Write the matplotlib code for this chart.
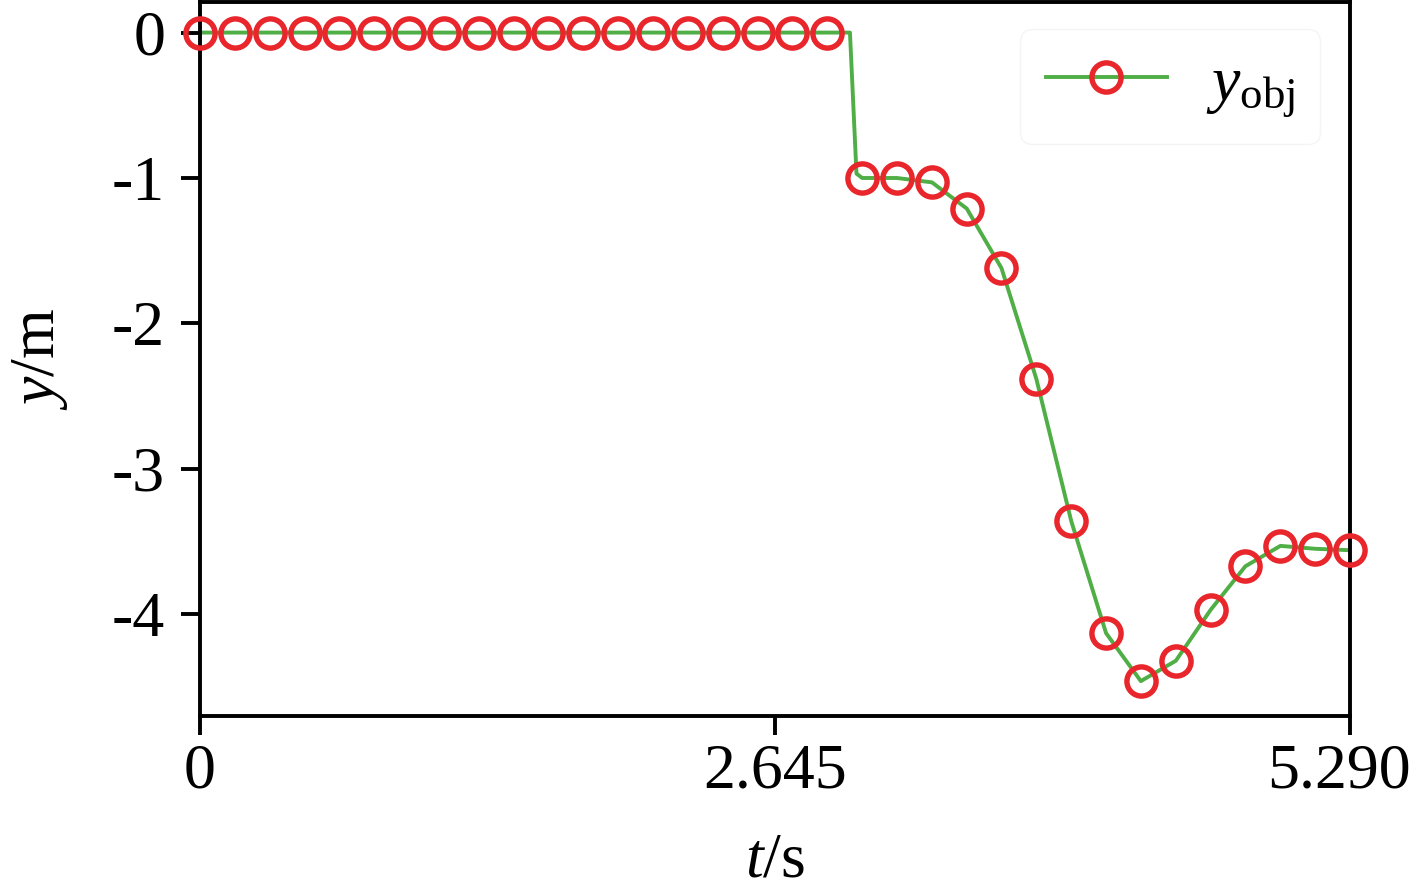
import numpy as np
import matplotlib
matplotlib.use("Agg")
import matplotlib.pyplot as plt
from matplotlib.legend_handler import HandlerTuple
from matplotlib.transforms import ScaledTranslation

# fonts: Times-like serif, italic math letters
plt.rcParams['font.family'] = ['Liberation Serif', 'DejaVu Serif']
plt.rcParams['mathtext.fontset'] = 'custom'
plt.rcParams['mathtext.rm'] = 'Liberation Serif'
plt.rcParams['mathtext.it'] = 'Liberation Serif:italic'

# sampled points (circles)
t_marker = [0.000, 0.160, 0.321, 0.481, 0.641, 0.802, 0.962, 1.122, 1.282,
            1.443, 1.603, 1.763, 1.924, 2.084, 2.244, 2.405, 2.565, 2.725,
            2.886, 3.046, 3.206, 3.367, 3.527, 3.687, 3.847, 4.008, 4.168,
            4.328, 4.489, 4.649, 4.809, 4.970, 5.130, 5.290]
y_marker = [0, 0, 0, 0, 0, 0, 0, 0, 0, 0, 0, 0, 0, 0, 0, 0, 0, 0, 0,
            -1.00, -1.00, -1.03, -1.21, -1.62, -2.38, -3.36, -4.13, -4.46,
            -4.32, -3.97, -3.67, -3.53, -3.55, -3.56]

# continuous trace (includes the step)
t_line = [0.000, 2.886, 2.990, 3.020, 3.046, 3.206, 3.367, 3.527, 3.687,
          3.847, 4.008, 4.168, 4.328, 4.489, 4.649, 4.809, 4.970, 5.130, 5.290]
y_line = [0, 0, 0, -0.97, -1.00, -1.00, -1.03, -1.21, -1.62,
          -2.38, -3.36, -4.13, -4.46, -4.32, -3.97, -3.67, -3.53, -3.55, -3.56]

xticks = [0, 2.645, 5.290]
xtick_labels = ['0', '2.645', '5.290']
yticks = [0, -1, -2, -3, -4]
ytick_labels = ['0', '-1', '-2', '-3', '-4']

fig = plt.figure(figsize=(14.17, 8.93), dpi=100)
ax = fig.add_axes([0.1411, 0.1982, 0.8116, 0.8])

l1, = ax.plot(t_line, y_line, color='#4fae45', lw=2.8, zorder=2)
m1, = ax.plot(t_marker, y_marker, ls='none', marker='o', ms=21, mfc='none',
              mec='#e8262b', mew=3.9, zorder=3, clip_on=False)

ax.set_xlim(0, 5.29)
ax.set_ylim(-4.70, 0.213)
ax.set_xticks(xticks)
ax.set_xticklabels(xtick_labels)
ax.set_yticks(yticks)
ax.set_yticklabels(ytick_labels)

for s in ax.spines.values():
    s.set_linewidth(2.8)
ax.tick_params(direction='out', length=14, width=2.8, labelsize=46)
ax.tick_params(axis='x', pad=6)
ax.tick_params(axis='y', pad=11)

# last x label sits a bit left of its tick in the original
lab = ax.get_xticklabels()[-1]
lab.set_transform(lab.get_transform() + ScaledTranslation(-0.11, 0, fig.dpi_scale_trans))

ax.set_xlabel(r'$t$/s', fontsize=46, labelpad=22)
ax.set_ylabel(r'$y$/m', fontsize=46, labelpad=30)

leg = ax.legend([(l1, m1)], [r'$y_{\rm obj}$'], loc='upper right',
                bbox_to_anchor=(0.974, 0.962), borderaxespad=0, fontsize=46,
                frameon=True, handlelength=1.9, handletextpad=0.6, borderpad=0.4,
                handler_map={tuple: HandlerTuple(ndivide=1)})
leg.get_frame().set_edgecolor('#f2f2f2')
leg.get_frame().set_linewidth(1.0)

fig.savefig('out.png', dpi=100)
